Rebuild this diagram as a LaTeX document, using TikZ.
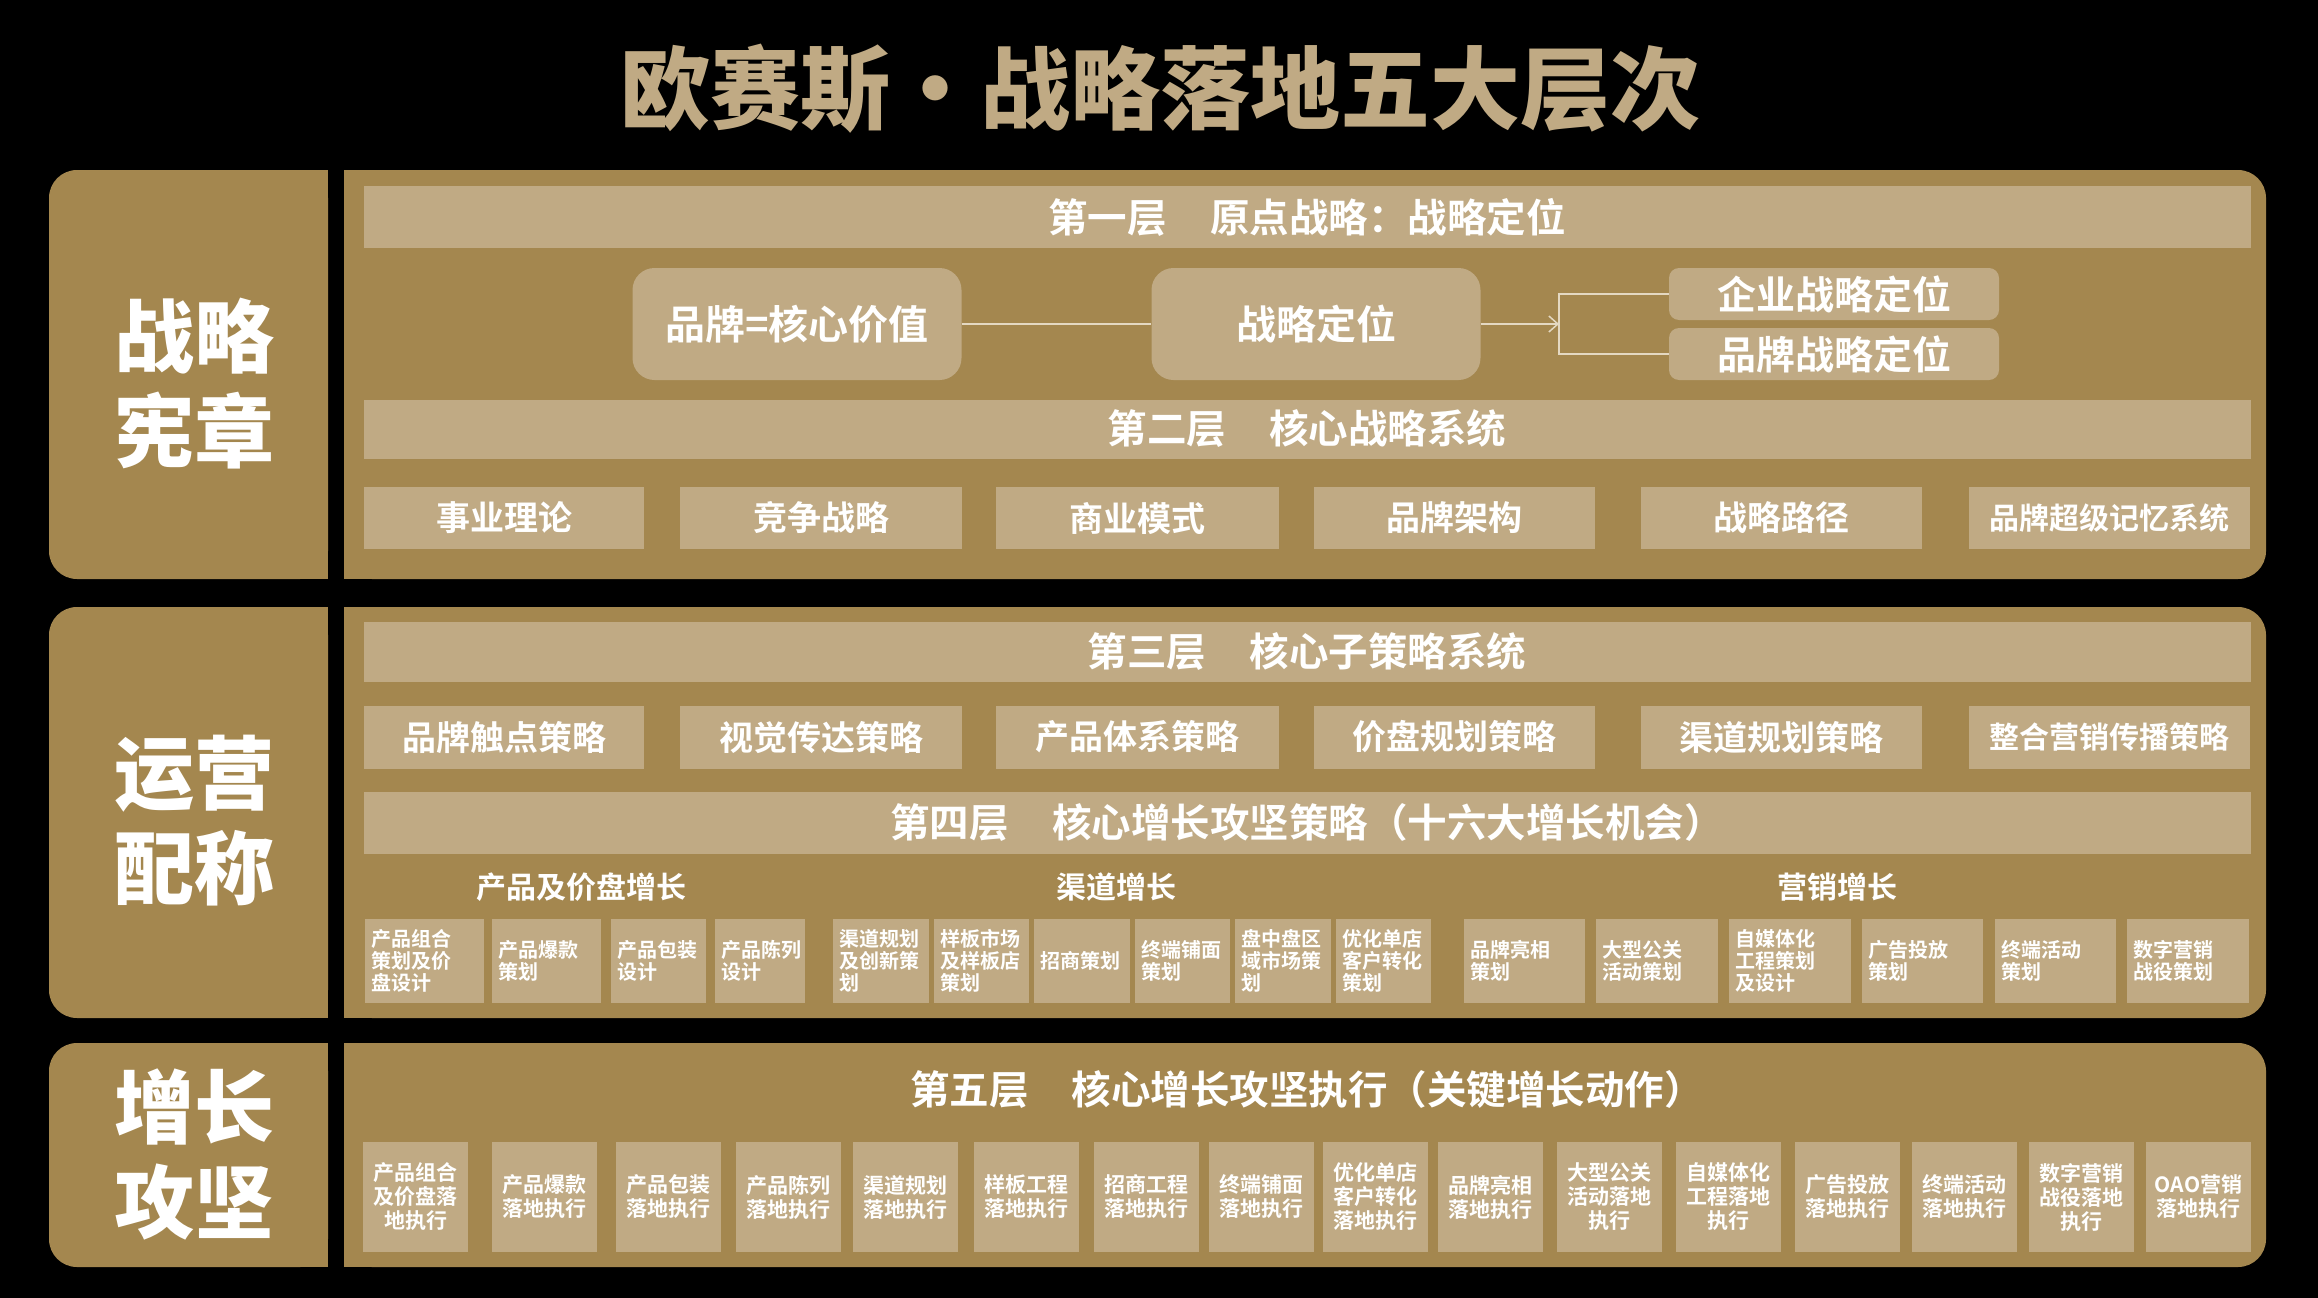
\documentclass[tikz,border=0pt]{standalone}
\usepackage{fontspec}
\setmainfont{Noto Sans CJK SC}[BoldFont={Noto Sans CJK SC Bold}]
\newfontfamily\heavy{Noto Sans CJK SC Black}
\usetikzlibrary{positioning,arrows.meta}
\definecolor{gold}{HTML}{A4874F}
\definecolor{tan}{HTML}{C0AA84}
\definecolor{wire}{HTML}{E4D8C2}
\tikzset{
  headbar/.style={fill=tan, text=white, inner sep=0pt, minimum width=1887, minimum height=62,
    font=\fontsize{39.5}{42}\selectfont\bfseries},
  keybox/.style={fill=tan, text=white, rounded corners=22, inner sep=0pt, minimum width=329,
    minimum height=112, font=\fontsize{40}{44}\selectfont\bfseries},
  subbox/.style={fill=tan, text=white, rounded corners=10, inner sep=0pt, minimum width=330,
    minimum height=52, font=\fontsize{39}{42}\selectfont\bfseries},
  sysbox/.style={fill=tan, text=white, inner sep=0pt, minimum height=62,
    font=\fontsize{34}{38}\selectfont\bfseries},
  oppbox/.style={fill=tan, text=white, inner xsep=6pt, inner ysep=0pt, minimum height=84,
    align=left, font=\fontsize{20}{22}\selectfont\bfseries},
  actbox/.style={fill=tan, text=white, inner sep=0pt, minimum width=105, minimum height=110,
    align=center, font=\fontsize{21}{24}\selectfont\bfseries},
  sidelabel/.style={text=white, align=center, font=\fontsize{80}{95}\selectfont\heavy},
  grouphead/.style={text=white, font=\fontsize{30}{34}\selectfont\bfseries},
  link/.style={draw=wire, line width=1.5pt}
}
\begin{document}
\begin{tikzpicture}[x=1pt,y=-1pt]
\fill[black] (0,0) rectangle (2318,1298);
\useasboundingbox (0,0) rectangle (2318,1298);
% title
\node[text=tan, font=\fontsize{90}{96}\selectfont\heavy] (title) at (1160,89) {欧赛斯·战略落地五大层次};
% three bands: left label panel + right content panel
\foreach \ya/\yb in {170/579, 607/1018, 1043/1267} {
  \fill[gold, rounded corners=28] (49,\ya) rectangle (328,\yb);
  \fill[gold] (200,\ya) rectangle (328,\yb);
  \fill[gold, rounded corners=28] (344,\ya) rectangle (2266,\yb);
  \fill[gold] (344,\ya) rectangle (500,\yb);
}
\node[sidelabel] (charter) at (194,384) {战略\\宪章};
\node[sidelabel] (ops) at (194,821) {运营\\配称};
\node[sidelabel] (growth) at (194,1154) {增长\\攻坚};
% layer one
\node[headbar] (layer1) at (1307,217) {第一层\hspace{1.1em}原点战略：战略定位};
\node[keybox] (core) at (797,324) {品牌=核心价值};
\node[keybox] (pos) at (1316,324) {战略定位};
\node[subbox] (corp) at (1834,294) {企业战略定位};
\node[subbox] (brand) at (1834,354) {品牌战略定位};
\coordinate (fork) at (1559,324);
\draw[link] (core) -- (pos);
\draw[link,-{Straight Barb[length=9pt,width=16pt]}] (pos) -- (fork);
\draw[link] (corp.west) -- (corp.west -| fork) -- (brand.west -| fork) -- (brand.west);
% layer two
\node[headbar, minimum height=59] (layer2) at (1307,429) {第二层\hspace{1.1em}核心战略系统};
\foreach \c/\w/\t [count=\i] in {504/280/事业理论, 821/282/竞争战略, 1137/283/商业模式,
    1454/281/品牌架构, 1781/281/战略路径, 2109/281/{\fontsize{30}{34}\selectfont 品牌超级记忆系统}}
  \node[sysbox, minimum width=\w] (sys\i) at (\c,518) {\t};
% layer three
\node[headbar, minimum height=60] (layer3) at (1307,652) {第三层\hspace{1.1em}核心子策略系统};
\foreach \c/\w/\t [count=\i] in {504/280/品牌触点策略, 821/282/视觉传达策略, 1137/283/产品体系策略,
    1454/281/价盘规划策略, 1781/281/渠道规划策略, 2109/281/{\fontsize{30}{34}\selectfont 整合营销传播策略}}
  \node[sysbox, minimum width=\w, minimum height=63] (sub\i) at (\c,737) {\t};
% layer four
\node[headbar] (layer4) at (1307,823) {第四层\hspace{1.1em}核心增长攻坚策略（十六大增长机会）};
\node[grouphead] (prodhead) at (581,887) {产品及价盘增长};
\node[grouphead] (chanhead) at (1116,887) {渠道增长};
\node[grouphead] (markhead) at (1837,887) {营销增长};
\foreach \a/\b/\t [count=\i] in {
    364/485/{产品组合\\策划及价\\盘设计}, 491/602/{产品爆款\\策划}, 610/707/{产品包装\\设计}, 714/806/{产品陈列\\设计},
    832/930/{渠道规划\\及创新策\\划}, 933/1030/{样板市场\\及样板店\\策划}, 1033/1131/{招商策划},
    1134/1231/{终端铺面\\策划}, 1234/1332/{盘中盘区\\域市场策\\划}, 1335/1432/{优化单店\\客户转化\\策划},
    1463/1586/{品牌亮相\\策划}, 1595/1719/{大型公关\\活动策划}, 1728/1852/{自媒体化\\工程策划\\及设计},
    1861/1984/{广告投放\\策划}, 1994/2117/{终端活动\\策划}, 2126/2250/{数字营销\\战役策划}} {
  \pgfmathsetmacro\tw{\b-\a-14}
  \node[oppbox, text width=\tw pt] (opp\i) at ({(\a+\b)/2},961) {\t};
}
% layer five
\node[text=white, font=\fontsize{39.5}{42}\selectfont\bfseries] (layer5) at (1307,1089) {第五层\hspace{1.1em}核心增长攻坚执行（关键增长动作）};
\foreach \x/\t [count=\i] in {363/{产品组合\\及价盘落\\地执行}, 492/{产品爆款\\落地执行}, 616/{产品包装\\落地执行},
    736/{产品陈列\\落地执行}, 853/{渠道规划\\落地执行}, 974/{样板工程\\落地执行}, 1094/{招商工程\\落地执行},
    1209/{终端铺面\\落地执行}, 1323/{优化单店\\客户转化\\落地执行}, 1438/{品牌亮相\\落地执行},
    1557/{大型公关\\活动落地\\执行}, 1676/{自媒体化\\工程落地\\执行}, 1795/{广告投放\\落地执行},
    1912/{终端活动\\落地执行}, 2029/{数字营销\\战役落地\\执行}, 2146/{OAO营销\\落地执行}}
  \node[actbox] (act\i) at ({\x+52.5},1197) {\t};
\end{tikzpicture}
\end{document}
